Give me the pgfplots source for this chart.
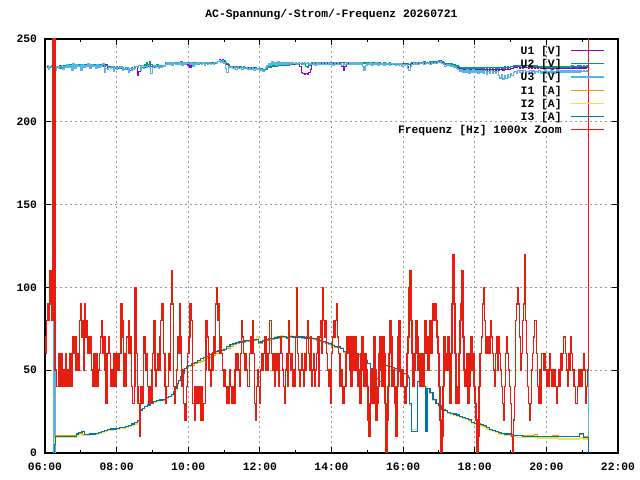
\documentclass[border=0pt]{standalone}
\usepackage{fontspec}
\setmainfont{Liberation Mono}
\usepackage{pgfplots}
\pgfplotsset{compat=1.18}
\usepackage{pgfplotstable}
\definecolor{cUa}{HTML}{9400D3}
\definecolor{cUb}{HTML}{009E73}
\definecolor{cUc}{HTML}{56B4E9}
\definecolor{cIa}{HTML}{E69F00}
\definecolor{cIb}{HTML}{F0E442}
\definecolor{cIc}{HTML}{0072B2}
\definecolor{cF}{HTML}{E51E10}
\newcommand\myfont{\fontsize{11.4}{13.2}\selectfont\bfseries}

\pgfplotstableread[row sep=\\]{
m U1 U2 U3\\
3 233.3 232.8 233.8\\ 5.5 232.6 233.5 231.8\\ 8 233.6 232.7 233.4\\ 10.5 232.8 233.7 232.7\\ 13 233.1 232.4 234.1\\ 15 0 0 0\\
17 232.3 233.2 231.2\\ 19.5 233.4 232.9 233.6\\ 22 232.9 233.4 232.5\\ 24.5 233.8 232.5 233.2\\ 27 232.5 233.3 234.1\\ 29.5 233.4 232.8 231.5\\
32 233.0 233.7 233.4\\ 34.5 233.7 233.2 232.8\\ 37 234.3 233.8 234.6\\ 39.5 233.6 234.5 232.6\\ 42 234.6 233.7 234.2\\ 44.5 233.8 234.7 231.3\\
47 234.1 233.4 234.9\\ 49.5 233.3 234.2 232.0\\ 52 234.4 233.9 234.4\\ 54.5 233.9 234.4 233.3\\ 57 234.8 233.5 234.0\\ 59.5 233.5 234.3 231.3\\
62 234.3 233.8 234.6\\ 64.5 233.6 234.5 232.6\\ 67 234.6 233.7 234.2\\ 69.5 233.8 234.7 233.5\\ 72 234.1 233.4 234.9\\ 74.5 233.3 234.2 232.0\\
77 234.4 233.9 234.4\\ 79.5 233.9 234.4 233.3\\ 82 234.8 233.5 234.0\\ 84.5 233.5 234.3 232.5\\ 87 234.3 233.8 234.6\\ 89.5 233.6 234.5 232.6\\
92 234.6 233.7 234.2\\ 94.5 233.8 234.7 233.5\\ 97 234.1 233.4 234.9\\ 99.5 233.3 234.2 229.8\\ 102 234.4 233.9 232.4\\ 104.5 232.4 233.4 231.5\\
107 233.1 232.6 232.7\\ 109.5 232.2 233.5 232.0\\ 112 232.9 232.7 233.4\\ 114.5 232.6 233.2 230.5\\ 117 232.0 232.8 232.9\\ 119.5 232.9 233.4 231.8\\
122 232.4 232.6 232.6\\ 124.5 233.0 233.3 232.1\\ 127 232.1 232.7 233.1\\ 129.5 231.5 232.6 230.8\\ 132 232.2 231.8 232.2\\ 134.5 231.4 232.7 231.4\\
137 232.1 231.9 232.6\\ 139.5 231.8 232.4 229.7\\ 142 231.2 232.0 232.1\\ 144.5 232.1 232.6 231.0\\ 147 231.6 231.8 231.9\\ 149.5 232.6 233.2 232.4\\
152 233.2 233.6 233.5\\ 154.5 228.3 233.1 232.6\\ 157 230.5 233.9 233.8\\ 159.5 233.6 233.4 231.2\\ 162 233.0 234.2 234.0\\ 164.5 233.7 233.6 232.4\\
167 233.1 234.3 233.6\\ 169.5 233.8 235.6 232.9\\ 172 233.4 234.6 233.9\\ 174.5 233.9 236.1 233.1\\ 177 233.2 234.8 229.0\\ 179.5 233.7 233.5 232.6\\
182 233.0 234.2 233.7\\ 184.5 233.9 233.6 232.8\\ 187 233.4 234.3 234.0\\ 189.5 233.8 233.7 232.2\\ 192 233.1 234.1 233.5\\ 194.5 233.7 233.4 232.9\\
197 233.3 234.0 234.1\\ 199.5 234.2 233.8 233.3\\ 202 234.8 235.7 234.4\\ 204.5 235.6 235.0 235.9\\ 207 235.0 235.8 234.7\\ 209.5 235.7 235.1 235.5\\
212 235.2 236.0 234.3\\ 214.5 235.9 235.3 236.0\\ 217 235.1 235.7 235.1\\ 219.5 235.6 235.0 234.6\\ 222 235.0 235.8 235.7\\ 224.5 235.8 235.2 234.9\\
227 235.3 236.1 235.8\\ 229.5 235.9 235.4 234.2\\ 232 235.1 235.7 235.5\\ 234.5 235.6 235.1 234.8\\ 237 235.2 235.9 235.9\\ 239.5 234.0 235.3 235.0\\
242 232.8 235.6 234.6\\ 244.5 235.5 235.0 235.8\\ 247 235.0 235.8 233.6\\ 249.5 235.7 235.2 235.4\\ 252 235.2 235.9 234.7\\ 254.5 235.8 235.3 235.6\\
257 235.1 235.7 234.9\\ 259.5 235.6 235.0 235.7\\ 262 235.0 235.8 234.4\\ 264.5 235.7 235.2 235.5\\ 267 235.2 235.9 233.9\\ 269.5 235.8 235.3 235.6\\
272 235.1 235.7 234.8\\ 274.5 235.6 235.1 235.9\\ 277 235.0 235.8 234.6\\ 279.5 235.7 235.2 235.4\\ 282 235.3 235.9 234.9\\ 284.5 235.8 235.3 235.8\\
287 235.5 236.0 235.2\\ 289.5 236.4 236.2 236.4\\ 292 237.4 236.6 237.0\\ 294.5 236.8 237.2 236.1\\ 297 237.6 236.4 236.9\\ 299.5 236.4 236.8 235.5\\
302 235.9 235.5 232.2\\ 304.5 234.8 235.2 230.0\\ 307 234.0 234.5 233.4\\ 309.5 233.2 233.6 232.6\\ 312 232.6 233.1 233.5\\ 314.5 233.4 232.7 232.0\\
317 232.7 233.5 233.1\\ 319.5 233.3 232.8 231.7\\ 322 232.5 233.4 233.2\\ 324.5 233.1 232.6 232.4\\ 327 232.4 233.3 233.0\\ 329.5 233.0 232.7 231.5\\
332 232.3 233.2 232.8\\ 334.5 232.9 232.5 232.1\\ 337 232.2 233.0 233.0\\ 339.5 232.8 232.4 231.6\\ 342 232.1 232.9 232.5\\ 344.5 232.6 232.2 231.8\\
347 231.9 232.8 232.6\\ 349.5 232.5 232.1 231.2\\ 352 231.8 232.6 232.3\\ 354.5 232.3 231.9 231.5\\ 357 231.6 232.4 231.9\\ 359.5 231.9 231.6 230.8\\
362 231.2 232.0 231.3\\ 364.5 230.7 231.4 230.2\\ 367 231.3 230.8 231.0\\ 369.5 232.0 231.5 232.8\\ 372 232.8 232.6 233.9\\ 374.5 233.6 233.1 235.2\\
377 233.1 233.7 234.2\\ 379.5 233.9 233.3 236.1\\ 382 233.4 234.0 234.6\\ 384.5 234.1 233.5 235.8\\ 387 233.7 234.2 234.3\\ 389.5 234.3 233.8 236.2\\
392 233.8 234.4 234.7\\ 394.5 234.4 233.9 235.5\\ 397 233.9 234.6 234.4\\ 399.5 234.6 234.0 235.9\\ 402 234.1 234.7 234.8\\ 404.5 234.7 234.2 235.6\\
407 234.3 234.9 234.5\\ 409.5 234.9 234.4 235.8\\ 412 234.6 235.0 235.0\\ 414.5 235.1 234.6 235.9\\ 417 234.7 235.2 235.2\\ 419.5 235.3 234.8 235.7\\
422 234.9 235.4 234.9\\ 424.5 235.4 235.0 235.8\\ 427 233.2 235.3 235.1\\ 429.5 229.8 234.9 235.6\\ 432 229.2 235.2 234.8\\ 434.5 228.6 234.6 235.5\\
437 229.4 233.4 235.0\\ 439.5 228.9 233.1 235.7\\ 442 229.6 234.2 234.9\\ 444.5 231.5 234.8 235.4\\ 447 235.0 235.5 234.6\\ 449.5 235.5 235.0 235.6\\
452 234.9 235.7 234.3\\ 454.5 235.6 235.1 235.5\\ 457 235.1 235.8 234.9\\ 459.5 235.7 235.2 235.8\\ 462 235.0 235.6 234.4\\ 464.5 235.5 235.0 235.6\\
467 235.2 235.8 234.8\\ 469.5 235.8 235.3 235.7\\ 472 235.1 235.7 234.5\\ 474.5 235.6 235.1 235.6\\ 477 235.0 235.8 234.9\\ 479.5 235.7 235.2 235.5\\
482 235.2 235.9 234.3\\ 484.5 235.8 235.3 235.7\\ 487 235.1 235.7 234.8\\ 489.5 235.6 235.1 235.9\\ 492 235.2 235.8 234.6\\ 494.5 235.7 235.3 235.4\\
497 233.5 235.6 234.2\\ 499.5 231.0 235.1 235.3\\ 502 233.4 235.8 234.8\\ 504.5 235.6 235.2 235.7\\ 507 235.1 235.9 234.6\\ 509.5 235.7 235.4 235.5\\
512 235.2 235.8 234.9\\ 514.5 235.8 235.3 235.8\\ 517 235.1 235.9 234.5\\ 519.5 235.7 235.4 235.6\\ 522 235.2 235.8 234.8\\ 524.5 235.6 235.2 235.7\\
527 235.0 235.8 234.4\\ 529.5 235.5 235.1 235.5\\ 532 235.1 235.7 233.2\\ 534.5 235.6 235.2 230.8\\ 537 235.0 235.8 234.1\\ 539.5 235.5 235.1 235.2\\
542 235.0 235.6 234.6\\ 544.5 235.4 235.0 235.5\\ 547 234.9 235.6 234.3\\ 549.5 235.5 235.0 235.4\\ 552 235.0 235.5 234.7\\ 554.5 235.4 234.9 235.5\\
557 234.9 235.6 233.9\\ 559.5 235.5 235.0 235.2\\ 562 234.9 235.4 234.5\\ 564.5 235.3 234.8 235.4\\ 567 234.8 235.5 234.0\\ 569.5 235.3 234.9 235.1\\
572 234.7 235.4 234.6\\ 574.5 235.2 234.8 235.3\\ 577 234.8 235.5 233.8\\ 579.5 235.2 234.9 235.0\\ 582 234.6 235.3 234.5\\ 584.5 235.1 234.7 235.2\\
587 234.7 235.4 234.3\\ 589.5 235.2 234.8 235.0\\ 592 234.5 235.3 234.2\\ 594.5 235.0 234.7 234.9\\ 597 234.6 235.2 233.6\\ 599.5 235.0 234.6 234.7\\
602 234.4 235.1 234.0\\ 604.5 234.9 234.5 234.6\\ 607 233.2 234.9 232.4\\ 609.5 231.0 234.4 230.8\\ 612 233.8 235.0 233.5\\ 614.5 235.2 235.6 234.6\\
617 235.6 235.2 235.7\\ 619.5 235.1 235.8 234.9\\ 622 235.7 235.3 235.8\\ 624.5 235.3 235.9 234.7\\ 627 235.8 235.4 235.9\\ 629.5 235.2 236.0 235.0\\
632 235.9 235.5 235.8\\ 634.5 235.4 236.1 234.8\\ 637 235.9 235.6 236.0\\ 639.5 235.3 236.0 235.1\\ 642 235.8 235.5 235.9\\ 644.5 235.4 236.1 234.6\\
647 236.0 235.6 235.9\\ 649.5 235.5 236.2 235.2\\ 652 236.1 235.7 236.0\\ 654.5 235.7 236.3 235.0\\ 657 236.2 235.9 236.1\\ 659.5 236.5 236.7 235.6\\
662 236.8 236.4 236.5\\ 664.5 236.0 236.5 235.4\\ 667 235.2 235.6 234.6\\ 669.5 234.5 235.0 233.6\\ 672 234.9 234.5 234.5\\ 674.5 234.2 235.0 233.8\\
677 234.7 234.4 234.4\\ 679.5 234.0 234.9 233.2\\ 682 234.4 234.3 234.1\\ 684.5 233.6 234.6 232.8\\ 687 233.9 234.0 233.4\\ 689.5 233.0 233.8 232.1\\
692 232.6 233.2 231.5\\ 694.5 231.9 232.6 230.2\\ 697 232.4 233.0 231.6\\ 699.5 231.5 232.4 229.8\\ 702 232.0 232.9 231.2\\ 704.5 231.3 232.2 230.0\\
707 231.9 232.7 231.4\\ 709.5 231.2 232.1 229.4\\ 712 231.8 232.8 231.0\\ 714.5 231.1 232.2 229.9\\ 717 231.7 232.6 231.3\\ 719.5 231.0 232.0 229.6\\
722 231.6 232.7 230.9\\ 724.5 231.2 232.1 229.2\\ 727 231.8 232.6 231.1\\ 729.5 231.1 232.0 229.7\\ 732 231.7 232.5 230.8\\ 734.5 231.2 232.2 229.3\\
737 231.6 232.8 230.9\\ 739.5 231.0 232.1 228.8\\ 742 231.6 232.6 230.6\\ 744.5 231.1 232.0 229.5\\ 747 231.7 232.7 230.8\\ 749.5 231.0 232.2 229.1\\
752 231.6 232.6 230.5\\ 754.5 231.1 232.0 229.0\\ 757 231.5 232.5 230.2\\ 759.5 230.9 232.2 228.0\\ 762 231.5 232.6 226.4\\ 764.5 231.9 233.0 228.2\\
767 231.3 232.5 225.8\\ 769.5 232.0 233.1 227.6\\ 772 231.6 232.7 226.1\\ 774.5 232.3 233.3 228.4\\ 777 231.8 232.9 226.6\\ 779.5 232.4 233.5 229.0\\
782 232.0 233.2 227.8\\ 784.5 232.8 233.9 229.6\\ 787 233.1 234.1 230.6\\ 789.5 232.6 233.6 229.4\\ 792 233.2 234.2 231.0\\ 794.5 232.5 233.5 229.7\\
797 233.0 234.0 230.8\\ 799.5 232.4 233.6 229.5\\ 802 233.1 234.1 230.9\\ 804.5 232.6 233.5 229.8\\ 807 232.9 233.9 230.6\\ 809.5 232.3 233.4 229.3\\
812 232.8 234.0 230.8\\ 814.5 232.3 233.5 229.6\\ 817 232.9 233.8 230.7\\ 819.5 232.2 233.2 229.4\\ 822 232.7 233.7 230.5\\ 824.5 232.1 233.2 229.7\\
827 232.6 233.6 230.8\\ 829.5 232.0 233.0 229.3\\ 832 232.6 233.6 230.6\\ 834.5 232.1 233.1 229.5\\ 837 232.5 233.5 230.7\\ 839.5 232.0 232.9 229.4\\
842 232.6 233.5 230.6\\ 844.5 232.1 233.0 229.6\\ 847 232.5 233.4 230.8\\ 849.5 231.9 233.0 229.5\\ 852 232.5 233.4 230.5\\ 854.5 232.0 232.9 229.4\\
857 232.6 233.5 230.9\\ 859.5 232.0 233.0 229.6\\ 862 232.5 233.4 230.7\\ 864.5 232.1 232.9 229.8\\ 867 232.6 233.5 230.8\\ 869.5 232.1 233.0 229.9\\
872 232.7 233.6 231.0\\ 874.5 232.2 233.1 229.8\\ 877 232.7 233.6 230.9\\ 879.5 232.2 233.0 230.0\\ 882 232.8 233.7 231.1\\ 884.5 232.3 233.2 229.9\\
887 232.8 233.6 231.0\\ 889.5 232.3 233.1 230.1\\ 892 232.9 233.7 231.2\\ 894.5 232.4 233.2 230.0\\ 897 232.9 233.8 231.2\\ 899.5 232.5 233.2 230.2\\
902 233.0 233.7 231.1\\ 904.5 232.5 233.3 230.4\\ 907 233.0 233.8 231.2\\ 909.5 232.6 233.3 230.6\\ 911 0 0 0\\
}\volt

\pgfplotstableread[row sep=\\]{
m I1 I2 I3\\
15 0 0 0\\ 16 10.5 9.5 5\\ 18 10.5 9.5 10\\ 30 10.5 9.5 10\\ 45 10.5 9.5 10\\ 53 11 10 11.5\\ 56 12 11 12.5\\
62 11 10.5 13\\ 66 11 10.5 11\\ 75 11.5 11 11.5\\ 85 12 11.5 12\\ 90 12.5 12 12.5\\ 95 13 12.5 13\\
100 13.5 13 13.5\\ 105 14 13.5 14\\ 110 14 13.5 14.5\\ 115 14.5 14 14.5\\ 120 15 14.5 15\\ 125 15 15 15.5\\
130 15.5 15 15.5\\ 135 16 15.5 16\\ 140 16.5 16 16.5\\ 145 17 16.5 17.5\\ 150 18 17.5 18.5\\ 155 19 19 19.5\\
158 20 20 24\\ 160 26 26 26\\ 163 27 27 27\\ 167 28 28 28\\ 172 29 29 29\\ 177 30 30 30\\ 182 30.5 30.5 31\\
187 31 31 31.5\\ 192 31.5 31.5 32\\ 197 32 32.5 32.5\\ 202 33 33 33.5\\ 207 34 34 34\\ 212 35 35 35.5\\
215 36 36 37\\ 218 38 38 39\\ 221 41 41 42\\ 224 43 43 44\\ 227 45 45 46\\ 230 46.5 46.5 48\\ 234 49 49 51\\
237 51 51 52\\ 241 52 52.5 53\\ 245 53 53.5 54\\ 250 54 54.5 54.5\\ 255 55 55.5 56\\ 260 55.5 56 57\\
265 56 56.5 57.5\\ 270 57 57.5 58.5\\ 275 58 58.5 59.5\\ 280 59 59.5 60.5\\ 285 60 60.5 61.5\\ 290 61 61.5 62\\
295 62 62.5 62\\ 300 62.5 63 62.5\\ 304 63 63.5 64.5\\ 310 64.5 65 65.5\\ 315 65.5 66 66\\ 320 66 66.5 66.5\\
325 66.5 67 67\\ 330 67 67.5 67.5\\ 335 67.5 68 68\\ 345 68 68.5 68\\ 350 68 68.5 68.5\\ 355 68.5 70 68.5\\
358 66 66.5 66.5\\ 362 66 66.5 67\\ 365 67.5 68 68\\ 370 68 68.5 68.5\\ 375 68 68.5 69\\ 380 68.5 69 69\\
385 69 70 69.5\\ 390 69.5 70.5 70\\ 395 70 71 70.5\\ 400 70 70.5 70.5\\ 405 70 70.5 69.5\\ 410 70 71 70.5\\
415 70 70.5 70\\ 420 70 71 70.5\\ 425 70 70.5 70\\ 430 69.5 70 70\\ 435 69.5 70 69.5\\ 440 69 70 69.5\\
445 69 69.5 69\\ 450 68.5 69 69\\ 455 68 69 68.5\\ 460 67.5 68 68\\ 465 67 67.5 67.5\\ 470 66 66.5 66.5\\
475 65.5 66 66\\ 480 65 65.5 65\\ 485 64 64.5 64.5\\ 490 63.5 64 64\\ 495 63 63.5 63\\ 500 61 61.5 61.5\\
505 60 60.5 60\\ 510 59 59.5 59\\ 515 58.5 59 58.5\\ 520 58.5 59 59\\ 525 58.5 59 59.5\\ 530 58 58.5 58.5\\
535 56 56.5 56\\ 540 54 54 54\\ 545 51 51 51\\ 550 47 47 47.5\\ 555 44.5 44.5 45\\ 560 43 43 43\\
564 53 53 55\\ 570 52.5 52 53\\ 575 52 52 52\\ 580 51.5 51 51.5\\ 585 51 50.5 51\\ 590 49.5 49 49.5\\
595 48.5 48 49\\ 600 47.5 47.5 48\\ 605 46.5 46 46.5\\ 609 45 45 45.5\\ 611 30 29 30\\ 614 14 14 13\\
624 43 43 43\\ 628 42 42 42\\ 632 41 41 41\\ 636 40 40 40\\ 637 40 40 13\\ 640 39 39 39\\ 645 36 36 36.5\\
650 32 32 32.5\\ 655 30 30 30\\ 660 28 28 28.5\\ 665 26 26 26.5\\ 670 25 25 25.5\\ 675 24 24 24.5\\
680 23.5 23.5 24\\ 685 23 23 23.5\\ 690 22.5 22 23\\ 695 22 21.5 22\\ 700 21 21 21.5\\ 705 20.5 20 21\\
710 19.5 19 20\\ 715 18 18 18.5\\ 720 17.5 17 18\\ 725 17 16.5 17.5\\ 730 16.5 16 17\\ 735 16 15.5 16.5\\
740 15 14.5 15.5\\ 745 14 13.5 14\\ 750 13.5 13 13.5\\ 755 13 12.5 13\\ 760 12 11 12.5\\ 765 11.5 11 12\\
770 11 10.5 11.5\\ 780 10.5 10 11\\ 785 10.5 10 10.5\\ 790 10.5 9.5 10.5\\ 800 10.5 9.5 10\\ 820 11 9.5 10\\
825 10 9 10\\ 850 10.5 9 10\\ 860 10 8.5 10\\ 896 11.5 9 12\\ 902 10 8.5 9.5\\ 910 10 8.5 9.5\\ 910.2 0 0 0\\
}\curr

\pgfplotstableread[row sep=\\]{
m f\\
1 60\\2 70\\3 80\\5 90\\6 80\\8 110\\10 90\\12 80\\13.5 300\\16.5 50\\19.5 40\\23.5 60\\26 40\\27 60\\29 40\\31 50\\32 40\\35 60\\36 40\\38 50\\40 40\\42 60\\45 40\\46 70\\48 60\\50 70\\52 50\\54 60\\56 50\\57.5 80\\59 90\\61 70\\62.5 80\\64 50\\66 90\\67.5 70\\69 80\\71 60\\72.6 70\\74 60\\76 70\\78 50\\80 40\\81.5 60\\84 40\\85.5 60\\87 40\\89 50\\91 60\\93 70\\95 80\\96.6 60\\98 70\\100.5 50\\102 30\\104 60\\106 70\\108 60\\109.5 40\\112 50\\113 40\\115 60\\117 40\\119 50\\120.6 60\\123 50\\125 60\\127 90\\129 70\\131 80\\132 40\\134 60\\136 40\\137 70\\140 80\\141 60\\143 70\\145 40\\147 30\\150 40\\151 100\\153 60\\155 40\\156 30\\158 10\\160 30\\161 40\\163 30\\165 60\\166 70\\168 50\\170 60\\171.5 40\\173 30\\175 40\\177 30\\179 50\\180 60\\182 80\\184 50\\185 40\\187 50\\189 60\\191 50\\193 70\\194 80\\196 90\\198 80\\199 60\\201 40\\203 30\\204 40\\207 60\\208 50\\210 90\\212 110\\213 90\\215 40\\217 30\\218 40\\220 50\\222 70\\223 60\\226 90\\227 70\\229 40\\231 50\\232 30\\234 20\\236 30\\237 40\\239 60\\241 70\\243 90\\245 80\\247 30\\250 20\\251 40\\253 30\\255 40\\257 30\\258.5 40\\261 20\\262.5 40\\264 20\\266 30\\268.6 50\\270 80\\272 70\\274 60\\275 50\\277 40\\278.6 60\\280 50\\282 70\\284 60\\286 90\\287.6 100\\289 80\\291 90\\292.6 60\\294 70\\296 60\\297.6 50\\299 40\\301 50\\302.7 40\\304 30\\306 40\\308 30\\309 50\\311 40\\313 30\\314 40\\316 30\\318 50\\319.4 60\\321 50\\322.8 60\\324.5 50\\326 40\\328 60\\329.5 80\\331 70\\333 60\\334.5 50\\336 60\\338 50\\339.5 40\\343 60\\344.5 70\\346 60\\348 80\\349.6 60\\351 30\\353 20\\354.6 40\\356 50\\358 40\\359.6 30\\361 50\\363 60\\364.7 50\\366 60\\368 70\\370 50\\371.4 60\\373 50\\374.7 60\\376 80\\379.7 60\\381.4 50\\383 60\\384.8 40\\386.4 60\\388 50\\389.8 60\\391.5 40\\393 60\\395 70\\396.5 60\\398 50\\400 40\\401.5 30\\403 50\\405 60\\406.5 40\\408 80\\410 60\\411.6 50\\413 60\\415 40\\416.6 50\\418 40\\420 70\\421.6 100\\423 60\\425 50\\427 40\\428.3 50\\430 60\\431.7 50\\433 40\\435 60\\436.7 50\\438.4 70\\440 80\\441.7 60\\443.4 50\\445 70\\446.8 40\\448.4 50\\450 60\\451.8 40\\453.5 50\\455 60\\456.8 70\\458.5 40\\460 70\\462 80\\463.5 60\\465 100\\467 80\\468.5 70\\470 80\\472 60\\473.6 50\\475 40\\477 50\\478.6 30\\480 60\\482 70\\483.6 80\\485 70\\487 80\\488.6 90\\490 70\\492 60\\494 40\\496 50\\497.6 40\\499 30\\501 40\\504 60\\506 70\\507.7 60\\509.4 70\\511 50\\512.7 40\\514.4 70\\516 60\\517.7 50\\519.4 70\\521 50\\522.8 60\\524.4 40\\526 50\\528 30\\529.5 60\\531 70\\533 50\\534.5 40\\536 60\\538 50\\539.5 40\\541 20\\543 10\\544.5 30\\546 50\\548 40\\549.6 30\\551 70\\553 50\\554.6 20\\556 30\\558 40\\559.6 60\\561 70\\563 50\\564.6 40\\566 70\\568 60\\569.7 30\\571.3 0\\573 20\\574.7 40\\576.4 60\\578 80\\579.7 70\\581.4 40\\583 50\\584.7 40\\586.4 30\\588 10\\590 40\\591.5 70\\593 80\\595 50\\596.5 40\\598 50\\600 40\\603 30\\605 40\\606.5 60\\608 70\\610 100\\611.5 110\\613 80\\615 60\\616.6 40\\618.3 50\\620 60\\621.6 80\\623.3 70\\625 50\\626.6 60\\628.3 40\\630 60\\631.7 50\\633.3 40\\635 60\\636.7 80\\638.4 70\\640 60\\641.7 50\\643.4 70\\645 80\\646.8 60\\648.4 80\\650 90\\651.8 80\\653.5 90\\655 80\\657 70\\658.5 60\\660 40\\662 20\\663.5 0\\665 10\\667 40\\668.5 70\\670 60\\672 50\\673.5 60\\675 70\\677 50\\678.6 30\\680 60\\682 90\\683.6 120\\685 90\\687 60\\688.6 30\\690 40\\692 30\\693.6 60\\695.3 80\\697 90\\698.7 110\\700.4 70\\702 50\\703.7 40\\705.4 50\\707 60\\708.7 30\\710.4 40\\712 60\\714 70\\715.4 50\\717 60\\719 40\\720.5 30\\722 20\\724 0\\725.5 10\\727 40\\729 60\\731.6 70\\733 90\\735 100\\736.6 80\\738 60\\740 70\\741.6 60\\743 70\\745 60\\746.7 80\\748.3 70\\750 60\\751.7 50\\753.4 40\\755 60\\757 70\\758.4 50\\760 70\\761.8 60\\763.4 50\\765 40\\766.8 30\\768.5 20\\770 40\\771.8 60\\773.5 70\\775 60\\776.8 50\\778.5 40\\780 30\\782 10\\783.5 0\\785 20\\787 40\\788.6 80\\790.2 90\\792 100\\793.6 90\\795 70\\797 50\\798.6 60\\800.3 80\\802 90\\803.6 120\\805 80\\807 60\\808.7 40\\810.3 30\\812 20\\813.7 30\\815.4 50\\817 60\\818.7 70\\820.4 80\\823.7 60\\825.4 40\\827 30\\828.8 50\\830.4 30\\832 60\\835.5 50\\837 60\\839 50\\840.5 40\\842 50\\844 40\\845.5 60\\847 50\\849 40\\850.5 50\\852 40\\854 50\\855.6 40\\857.3 30\\859 40\\860.6 50\\862.3 40\\864 60\\865.6 50\\867.3 60\\869 70\\872.3 60\\874 50\\875.7 40\\877.4 60\\879 50\\880.7 70\\882.4 60\\884 50\\886 40\\889 30\\892.4 40\\894 50\\895.8 40\\897.5 50\\899 40\\901 50\\902.5 60\\904 50\\906 30\\907.5 40\\909 50\\910.3 300\\
}\freq

\begin{document}
\begin{tikzpicture}
\useasboundingbox[fill=white] (0,0) rectangle (640bp,480bp);
\begin{axis}[
  at={(45bp,27bp)}, anchor=south west,
  scale only axis, width=573bp, height=414bp,
  xmin=0, xmax=960, ymin=0, ymax=250,
  xtick={0,120,...,960},
  xticklabels={06:00,08:00,10:00,12:00,14:00,16:00,18:00,20:00,22:00},
  minor x tick num=1,
  ytick={0,50,100,150,200,250},
  yticklabels={0,50,100,150,200,250},
  tick align=inside, tick pos=both,
  major tick length=6bp, minor tick length=3bp,
  grid=major,
  major grid style={black!40, dash pattern=on 2bp off 3bp, line width=0.8bp},
  axis line style={line width=1.2bp},
  every tick/.style={black, line width=1bp},
  tick label style={font=\myfont},
  xticklabel style={yshift=-6bp},
  yticklabel style={xshift=-4.5bp},
  title={AC-Spannung/-Strom/-Frequenz 20260721},
  title style={font=\myfont, at={(axis description cs:0.5,1)}, anchor=center, yshift=18bp},
  legend style={draw=none, fill=none, font=\myfont,
    at={(axis description cs:0.977,0.9877)}, anchor=north east,
    inner sep=0pt, outer sep=0pt, row sep=0pt, column sep=9bp,
    nodes={inner sep=0pt, text height=10.4bp, text depth=2.8bp}},
  legend cell align=right,
  legend plot pos=right,
  legend image code/.code={\draw[#1, line width=1.2bp] (0bp,0bp) -- (33bp,0bp);},
]
\addplot[const plot, color=cUa, line width=1.2bp] table[x=m, y=U1] {\volt};
\addlegendentry{U1 [V]}
\addplot[const plot, color=cUb, line width=1.2bp] table[x=m, y=U2] {\volt};
\addlegendentry{U2 [V]}
\addplot[const plot, color=cUc, line width=1.2bp] table[x=m, y=U3] {\volt};
\addlegendentry{U3 [V]}
\addplot[const plot, color=cIa, line width=1.2bp] table[x=m, y=I1] {\curr};
\addlegendentry{I1 [A]}
\addplot[const plot, color=cIb, line width=1.2bp] table[x=m, y=I2] {\curr};
\addlegendentry{I2 [A]}
\addplot[const plot, color=cIc, line width=1.2bp] table[x=m, y=I3] {\curr};
\addlegendentry{I3 [A]}
\addplot[const plot, color=cF, line width=1.4bp] table[x=m, y=f] {\freq};
\addlegendentry{Frequenz [Hz] 1000x Zoom}
\end{axis}
\end{tikzpicture}
\end{document}
